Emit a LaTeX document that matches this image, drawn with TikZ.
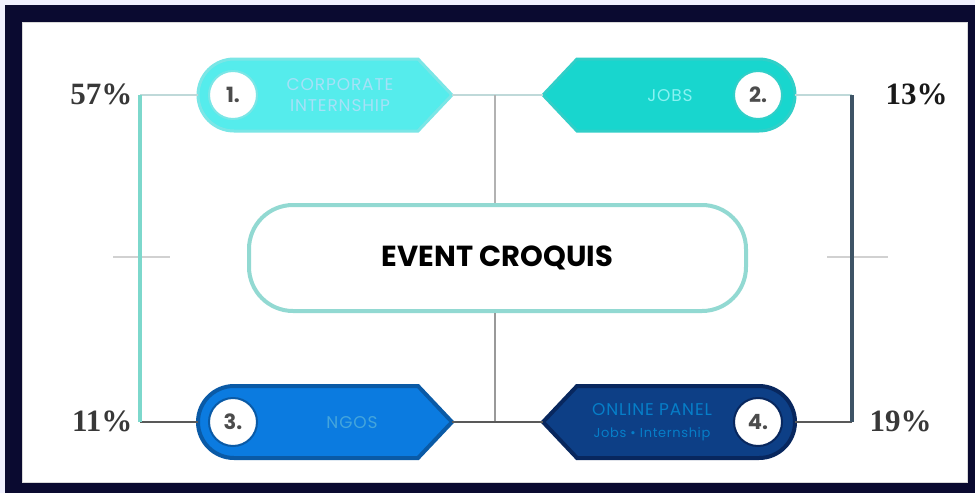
\documentclass[tikz,border=0pt]{standalone}
\usepackage{fontspec}
\setmainfont{Poppins}
\newfontfamily\pctfont{Liberation Serif}
\newfontfamily\lblfont[LetterSpace=5]{Poppins}
\begin{document}
\begin{tikzpicture}[x=1pt,y=-1pt,
  pct/.style={font=\pctfont\bfseries\fontsize{31}{31}\selectfont, text=black!78},
  num/.style={circle, fill=white, minimum size=48pt, inner sep=0pt, font=\bfseries\fontsize{21}{21}\selectfont, text=black!70},
  lbl/.style={font=\lblfont\fontsize{17}{21}\selectfont, align=center},
  thinlink/.style={line width=1.5pt, draw=black!20!teal!25},
  darklink/.style={line width=1.6pt, draw=black!65},
  tick/.style={line width=1.2pt, draw=black!18}]
\definecolor{navy}{HTML}{0A0A30}
\definecolor{c1}{HTML}{55ECEC}
\definecolor{c1b}{HTML}{7AE6E6}
\definecolor{c2}{HTML}{18D6CE}
\definecolor{c2b}{HTML}{30CFC8}
\definecolor{c3}{HTML}{0B7BE0}
\definecolor{c3b}{HTML}{0A5AA6}
\definecolor{c4}{HTML}{0D3F86}
\definecolor{c4b}{HTML}{08275E}
\definecolor{croq}{HTML}{92D9D2}
\definecolor{lvert}{HTML}{7DD8CC}
\definecolor{rvert}{HTML}{3E5466}
\useasboundingbox (0,0) rectangle (975,493);
% frame
\fill[navy] (0,0) rectangle (975,493);
\fill[black!8!blue!6] (0,0) rectangle (975,5);
\fill[black!8!blue!6] (0,0) rectangle (5,493);
\fill[white] (22,22) rectangle (968,483);
\draw[black!15, line width=1pt] (22.5,22.5) rectangle (967.5,482.5);
% pill shapes
\filldraw[fill=c1, draw=c1b, line width=3pt] (234,59) -- (418,59) -- (452,95) -- (418,131) -- (234,131) arc[start angle=90, end angle=270, radius=36] -- cycle;
\filldraw[fill=c2, draw=c2b, line width=3pt] (759,59) -- (577,59) -- (543,95) -- (577,131) -- (759,131) arc[start angle=90, end angle=-90, radius=36] -- cycle;
\filldraw[fill=c3, draw=c3b, line width=4pt] (234,386) -- (418,386) -- (452,422) -- (418,458) -- (234,458) arc[start angle=90, end angle=270, radius=36] -- cycle;
\filldraw[fill=c4, draw=c4b, line width=4pt] (759,386) -- (577,386) -- (543,422) -- (577,458) -- (759,458) arc[start angle=90, end angle=-90, radius=36] -- cycle;
% named anchor points
\coordinate (p1L) at (198,95);  \coordinate (p1R) at (452,95);
\coordinate (p2L) at (543,95);  \coordinate (p2R) at (795,95);
\coordinate (p3L) at (198,422); \coordinate (p3R) at (452,422);
\coordinate (p4L) at (543,422); \coordinate (p4R) at (795,422);
\coordinate (lt) at (140,95);  \coordinate (lb) at (140,422);
\coordinate (rt) at (852,95);  \coordinate (rb) at (852,422);
\coordinate (mt) at (495,95);  \coordinate (mb) at (495,422);
\coordinate (tl1) at (113,257); \coordinate (tl2) at (170,257);
\coordinate (tr1) at (827,257); \coordinate (tr2) at (888,257);
% number circles
\node[num, draw=c1b, line width=2pt] (n1) at (233,95) {1.};
\node[num, draw=c2b, line width=2pt] (n2) at (758,95) {2.};
\node[num, draw=c3b, line width=2pt] (n3) at (233,422) {3.};
\node[num, draw=c4b, line width=2pt] (n4) at (758,422) {4.};
% labels
\node[lbl, text=cyan!30!white!85!c1] (t1) at (340,95) {CORPORATE\\INTERNSHIP};
\node[lbl, text=c1!70!white] (t2) at (670,96) {JOBS};
\node[lbl, text=cyan!55!c3!80!white] (t3) at (352,423) {NGOS};
\node[lbl, text=blue!30!cyan!55!c4, font=\lblfont\fontsize{17}{22}\selectfont] (t4) at (652,422) {ONLINE PANEL\\{\fontsize{13}{15}\selectfont Jobs • Internship}};
% center
\node[draw=croq, line width=4pt, rounded corners=44pt, minimum width=497pt, minimum height=106pt, font=\bfseries\fontsize{29}{29}\selectfont] (ev) at (497.5,258) {EVENT CROQUIS};
% connectors
\draw[thinlink] (lt) -- (p1L);
\draw[thinlink] (p1R) -- (p2L);
\draw[thinlink] (p2R) -- (rt);
\draw[line width=1.5pt, draw=black!30] (mt) -- (mt |- ev.north);
\draw[line width=1.5pt, draw=black!40] (mb |- ev.south) -- (mb);
\draw[darklink] (p3R) -- (p4L);
\draw[darklink] (lb) -- (p3L);
\draw[darklink] (p4R) -- (rb);
\draw[tick] (tl1) -- (tl2);
\draw[tick] (tr1) -- (tr2);
\draw[line width=3.5pt, draw=lvert] (lt) -- (lb);
\draw[line width=4pt, draw=rvert] (rt) -- (rb);
% percentages
\node[pct, anchor=east] (q1) at (136,94) {57\%};
\node[pct, anchor=west, text=black!90] (q2) at (882,94) {13\%};
\node[pct, anchor=east] (q3) at (136,421) {11\%};
\node[pct, anchor=west] (q4) at (866,421) {19\%};
\end{tikzpicture}
\end{document}
